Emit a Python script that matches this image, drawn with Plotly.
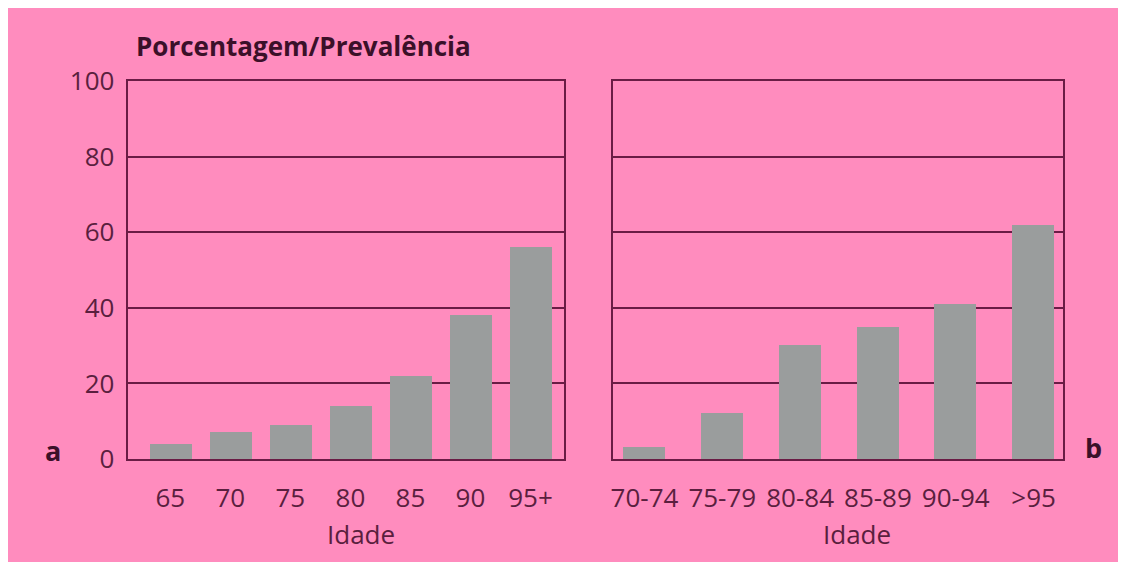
import plotly.graph_objects as go

# ---- data ----
ages_a = ["65", "70", "75", "80", "85", "90", "95+"]
prev_a = [4, 7, 9, 14, 22, 38, 56]
ages_b = ["70-74", "75-79", "80-84", "85-89", "90-94", ">95"]
prev_b = [3, 12, 30, 35, 41, 62]
y_ticks = [0, 20, 40, 60, 80, 100]
title_text = "Porcentagem/Prevalência"
x_title = "Idade"
panel_a = "a"
panel_b = "b"

# ---- style ----
W, H = 1110, 554          # page body margin (8px) supplies the white frame
OFF = 8                   # screen offset of the figure
PINK = "#FF8CBE"
LINE = "#6A1C45"
BAR = "#9A9D9D"
TXT = "#5A1F3E"
TITLE = "#3B1029"
FONT = "Open Sans"

def px(x):
    return (x - OFF) / W

def py(y):
    return 1 - (y - OFF) / H

fig = go.Figure()
fig.add_trace(go.Bar(x=ages_a, y=prev_a, width=0.7, marker=dict(color=BAR, line=dict(width=0)),
                     xaxis="x", yaxis="y", showlegend=False, hoverinfo="x+y"))
fig.add_trace(go.Bar(x=ages_b, y=prev_b, width=0.54, marker=dict(color=BAR, line=dict(width=0)),
                     xaxis="x2", yaxis="y2", showlegend=False, hoverinfo="x+y"))

ydom = [py(470), py(66)]
common_x = dict(type="category", showline=True, mirror=True, linecolor=LINE, linewidth=2,
                showgrid=False, ticks="", ticklabelstandoff=15,
                tickfont=dict(family=FONT, size=26, color=TXT), zeroline=False, fixedrange=True)
common_y = dict(range=[0, 100], tickvals=y_ticks, showline=True, mirror=True, linecolor=LINE,
                linewidth=2, showgrid=True, gridcolor=LINE, gridwidth=2, ticks="", zeroline=False,
                tickfont=dict(family=FONT, size=26, color=TXT), fixedrange=True)

fig.update_layout(
    width=W, height=H,
    margin=dict(l=0, r=0, t=0, b=0),
    paper_bgcolor=PINK,
    plot_bgcolor=PINK,
    bargap=0,
    xaxis=dict(common_x, domain=[px(125), px(562)], range=[-0.71, 6.55], anchor="y"),
    yaxis=dict(common_y, domain=ydom, anchor="x", ticklabelstandoff=6),
    xaxis2=dict(common_x, domain=[px(612), px(1063)], range=[-0.4, 5.38], anchor="y2"),
    yaxis2=dict(common_y, domain=ydom, anchor="x2", showticklabels=False),
    annotations=[
        dict(text="<b>" + title_text + "</b>", x=px(301), y=py(28), xref="paper", yref="paper",
             showarrow=False, xanchor="center", yanchor="middle",
             font=dict(family=FONT, size=26, color=TITLE)),
        dict(text=x_title, x=px(359), y=py(550), xref="paper", yref="paper", showarrow=False,
             xanchor="center", yanchor="middle", font=dict(family=FONT, size=26, color=TXT)),
        dict(text=x_title, x=px(856), y=py(550), xref="paper", yref="paper", showarrow=False,
             xanchor="center", yanchor="middle", font=dict(family=FONT, size=26, color=TXT)),
        dict(text="<b>" + panel_a + "</b>", x=px(50), y=py(461), xref="paper", yref="paper",
             showarrow=False, xanchor="center", yanchor="middle",
             font=dict(family=FONT, size=27, color=TITLE)),
        dict(text="<b>" + panel_b + "</b>", x=px(1093), y=py(458), xref="paper", yref="paper",
             showarrow=False, xanchor="center", yanchor="middle",
             font=dict(family=FONT, size=27, color=TITLE)),
    ],
)

fig.write_html("out.html")
